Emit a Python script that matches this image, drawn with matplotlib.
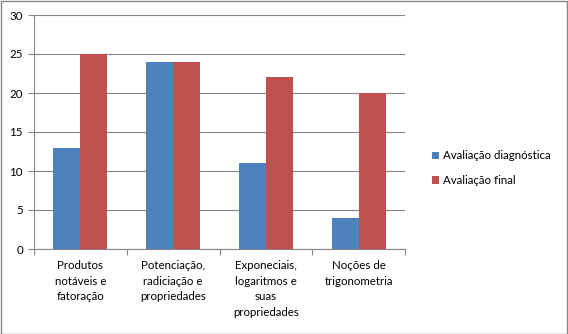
import numpy as np
import matplotlib.pyplot as plt
from matplotlib.patches import Rectangle

categorias = ['Produtos\nnotáveis e\nfatoração',
              'Potenciação,\nradiciação e\npropriedades',
              'Exponeciais,\nlogaritmos e\nsuas\npropriedades',
              'Noções de\ntrigonometria']
diagnostica = [13, 24, 11, 4]
final = [25, 24, 22, 20]
series = ['Avaliação diagnóstica', 'Avaliação final']

azul = '#4F81BD'
vermelho = '#C0504D'
cinza = '#878787'

plt.rcParams['font.family'] = ['Lato', 'DejaVu Sans']

fig = plt.figure(figsize=(5.68, 3.34), dpi=100)
W, H = 568, 334
ax = fig.add_axes([34 / W, 1 - 249 / H, (405 - 34) / W, (249 - 15) / H])

x = np.arange(len(categorias))
w = 0.29
ax.bar(x - w / 2, diagnostica, w, color=azul, label=series[0], zorder=3)
ax.bar(x + w / 2, final, w, color=vermelho, label=series[1], zorder=3)

ax.set_xlim(-0.5, len(categorias) - 0.5)
ax.set_ylim(0, 30)
ax.set_yticks(np.arange(0, 31, 5))
ax.yaxis.grid(True, color=cinza, linewidth=0.8, zorder=0)
ax.tick_params(axis='y', length=4, color=cinza, labelsize=8.3, pad=4)

# ticks do eixo x nas divisas entre categorias
ax.set_xticks(np.arange(-0.5, len(categorias)), minor=False)
ax.set_xticklabels([''] * (len(categorias) + 1))
ax.tick_params(axis='x', length=4, color=cinza, direction='out')
ax.set_xticks(x, minor=True)
ax.set_xticklabels(categorias, minor=True, fontsize=8.3, linespacing=1.5, va='top')
ax.tick_params(axis='x', which='minor', length=0, pad=8)

for lado in ['top', 'right']:
    ax.spines[lado].set_visible(False)
for lado in ['left', 'bottom']:
    ax.spines[lado].set_color(cinza)
    ax.spines[lado].set_linewidth(0.8)

leg = fig.legend(loc='upper left', bbox_to_anchor=(422 / W, 1 - 140 / H),
                 frameon=False, fontsize=8.3, handlelength=0.6, handleheight=0.6,
                 handletextpad=0.3, labelspacing=1.2)

fig.patches.append(Rectangle((0.5 / W, 0.5 / H), 1 - 1.5 / W, 1 - 1.5 / H,
                             transform=fig.transFigure, fill=False,
                             edgecolor=cinza, linewidth=1))

fig.savefig('out.png', dpi=100)
